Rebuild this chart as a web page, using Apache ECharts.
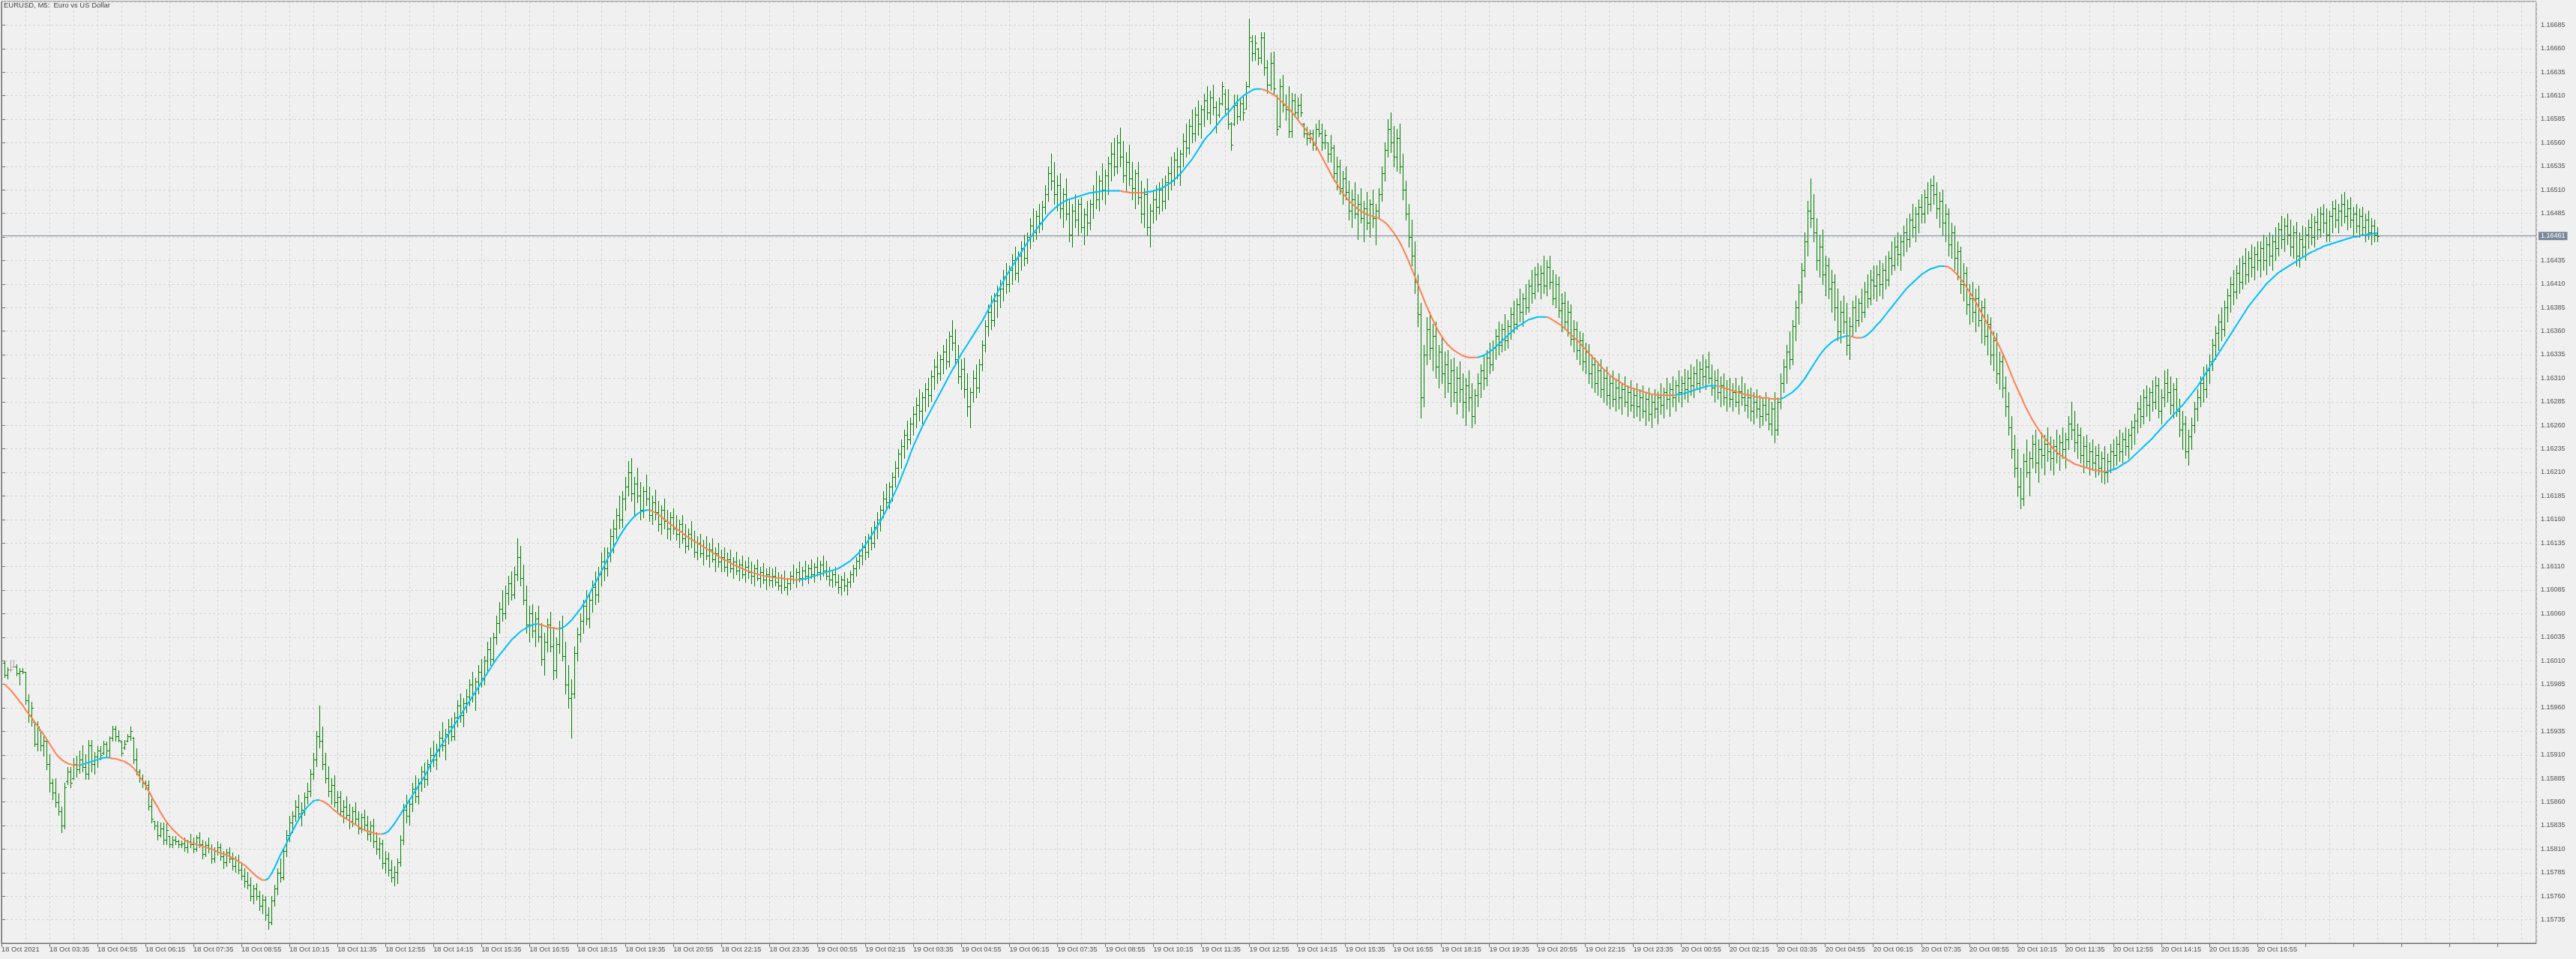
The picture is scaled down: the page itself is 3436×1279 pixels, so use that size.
<!DOCTYPE html>
<html><head><meta charset="utf-8">
<script src="https://cdn.jsdelivr.net/npm/echarts@6/dist/echarts.min.js"></script>
<style>html,body{margin:0;padding:0;background:#f0f0f0;}#c{width:3436px;height:1279px;}</style>
</head><body><div id="c"></div>
<script>
const TITLE = 'EURUSD, M5:  Euro vs US Dollar';
const BASE = 1.15;          // bar values below are in points (0.00001) above BASE
const bidPrice = 1.16461;
const tickLabels = ['18 Oct 2021','18 Oct 03:35','18 Oct 04:55','18 Oct 06:15','18 Oct 07:35','18 Oct 08:55','18 Oct 10:15','18 Oct 11:35','18 Oct 12:55','18 Oct 14:15','18 Oct 15:35','18 Oct 16:55','18 Oct 18:15','18 Oct 19:35','18 Oct 20:55','18 Oct 22:15','18 Oct 23:35','19 Oct 00:55','19 Oct 02:15','19 Oct 03:35','19 Oct 04:55','19 Oct 06:15','19 Oct 07:35','19 Oct 08:55','19 Oct 10:15','19 Oct 11:35','19 Oct 12:55','19 Oct 14:15','19 Oct 15:35','19 Oct 16:55','19 Oct 18:15','19 Oct 19:35','19 Oct 20:55','19 Oct 22:15','19 Oct 23:35','20 Oct 00:55','20 Oct 02:15','20 Oct 03:35','20 Oct 04:55','20 Oct 06:15','20 Oct 07:35','20 Oct 08:55','20 Oct 10:15','20 Oct 11:35','20 Oct 12:55','20 Oct 14:15','20 Oct 15:35','20 Oct 16:55'];
const open = [
1008,995,1001,1004,1004,997,999,998,968,952,945,922,936,920,925,900,
880,870,860,850,835,882,892,885,900,895,905,897,890,920,900,908,
915,912,922,915,928,938,930,924,918,925,930,928,905,892,885,880,
878,856,840,835,825,832,820,824,815,820,818,815,816,812,818,815,
810,822,815,805,814,810,800,808,812,802,796,806,800,792,798,788,
782,776,772,760,768,760,750,756,740,732,755,768,785,780,808,825,
838,845,855,848,852,865,872,890,905,930,925,900,885,872,878,860,
865,850,855,846,840,850,842,832,844,836,826,835,818,810,816,795,
800,788,780,786,796,820,852,845,858,874,866,880,892,884,900,910,
905,915,928,920,932,940,930,950,962,952,965,972,985,975,988,998,
992,1010,1022,1012,1035,1050,1065,1060,1082,1092,1080,1102,1120,1098,1075,1048,
1060,1042,1055,1036,1012,1030,1048,1025,1000,1028,1045,1015,985,970,975,1018,
1038,1052,1068,1055,1075,1088,1080,1102,1115,1108,1125,1142,1150,1165,1160,1182,
1195,1210,1188,1198,1185,1170,1190,1182,1165,1178,1168,1155,1170,1158,1150,1162,
1150,1145,1155,1140,1132,1145,1138,1126,1135,1124,1130,1122,1128,1118,1124,1115,
1120,1110,1118,1108,1115,1106,1112,1102,1110,1104,1100,1108,1098,1104,1096,1102,
1095,1100,1094,1090,1098,1088,1092,1100,1096,1104,1098,1106,1100,1108,1102,1110,
1104,1112,1106,1100,1096,1102,1094,1088,1096,1090,1094,1102,1108,1116,1122,1130,
1126,1140,1135,1152,1160,1170,1182,1178,1195,1205,1215,1230,1238,1250,1245,1262,
1272,1282,1275,1290,1298,1292,1312,1322,1315,1330,1338,1328,1355,1348,1330,1312,
1320,1298,1280,1295,1310,1300,1325,1345,1365,1380,1372,1392,1398,1405,1418,1410,
1425,1435,1422,1440,1448,1438,1460,1472,1465,1482,1475,1492,1505,1528,1520,1505,
1515,1490,1505,1485,1462,1488,1478,1495,1470,1484,1475,1495,1508,1500,1520,1510,
1525,1538,1548,1535,1560,1545,1525,1540,1522,1512,1528,1502,1485,1505,1470,1488,
1500,1492,1510,1498,1518,1528,1520,1542,1535,1548,1562,1555,1578,1570,1590,1580,
1595,1605,1592,1608,1598,1590,1602,1612,1596,1580,1580,1600,1588,1602,1596,1620,
1668,1655,1660,1650,1672,1640,1622,1645,1610,1578,1620,1600,1595,1572,1605,1592,
1600,1580,1570,1565,1570,1558,1575,1570,1560,1560,1548,1555,1528,1535,1512,1522,
1508,1488,1500,1485,1495,1480,1490,1475,1495,1480,1488,1505,1528,1552,1575,1560,
1545,1565,1535,1510,1485,1460,1440,1412,1378,1290,1335,1362,1342,1355,1322,1338,
1315,1325,1305,1318,1295,1310,1298,1285,1302,1290,1270,1292,1305,1318,1310,1332,
1325,1342,1355,1345,1362,1350,1365,1378,1368,1388,1380,1395,1385,1408,1400,1420,
1410,1422,1408,1428,1412,1395,1410,1382,1390,1370,1380,1352,1362,1340,1350,1328,
1338,1315,1325,1305,1318,1298,1310,1292,1305,1288,1300,1290,1298,1285,1295,1282,
1292,1280,1290,1275,1288,1272,1285,1278,1290,1282,1295,1288,1298,1290,1302,1295,
1305,1298,1310,1302,1315,1305,1320,1312,1322,1310,1300,1308,1295,1302,1290,1298,
1288,1295,1285,1296,1290,1282,1290,1275,1285,1278,1270,1282,1272,1262,1278,1255,
1285,1305,1322,1338,1330,1365,1385,1402,1425,1455,1488,1480,1465,1435,1450,1420,
1430,1405,1412,1385,1360,1380,1370,1345,1365,1385,1372,1390,1380,1402,1395,1415,
1408,1420,1410,1425,1415,1438,1430,1450,1442,1455,1465,1458,1478,1470,1485,1492,
1485,1502,1495,1515,1505,1490,1498,1475,1485,1452,1465,1438,1445,1410,1422,1388,
1395,1380,1395,1372,1385,1355,1368,1335,1350,1315,1328,1300,1280,1258,1235,1215,
1195,1182,1222,1210,1225,1240,1220,1235,1228,1240,1232,1225,1238,1230,1242,1235,
1245,1262,1255,1242,1250,1228,1238,1222,1232,1220,1228,1215,1225,1210,1222,1232,
1228,1240,1232,1245,1238,1250,1258,1265,1278,1270,1290,1282,1295,1285,1302,1275,
1290,1305,1295,1282,1298,1275,1255,1262,1232,1248,1260,1278,1290,1305,1298,1318,
1328,1345,1358,1370,1362,1385,1398,1410,1402,1422,1412,1432,1420,1438,1428,1442,
1435,1448,1435,1452,1440,1455,1448,1468,1458,1472,1462,1450,1465,1440,1458,1450,
1462,1470,1460,1476,1468,1485,1475,1462,1482,1490,1478,1488,1495,1482,1490,1478,
1485,1472,1482,1470,1478,1465,1472,1462];
const high = [
1010,1003,1011,1011,1006,1002,1002,998,974,966,945,946,936,930,925,911,
884,885,869,855,880,897,897,907,909,915,920,911,926,926,913,919,
919,925,924,930,941,941,936,925,926,932,940,929,917,895,889,883,
883,864,840,840,838,838,838,824,824,824,820,819,822,820,826,822,
825,828,820,818,822,815,812,818,816,808,810,812,806,802,804,796,
790,786,780,772,774,766,762,760,748,760,772,790,800,812,830,845,
850,862,868,860,870,880,895,912,935,962,940,912,898,885,888,872,
872,862,866,858,855,860,850,848,852,845,840,842,828,822,820,808,
806,798,792,800,825,858,868,862,880,888,885,898,902,905,918,925,
922,935,945,938,948,950,955,968,975,970,980,990,998,992,1005,1012,
1015,1030,1035,1040,1058,1072,1085,1090,1100,1105,1110,1140,1132,1112,1090,1068,
1070,1062,1068,1050,1040,1055,1062,1045,1035,1052,1058,1030,1005,990,1025,1045,
1060,1075,1085,1080,1095,1105,1110,1125,1130,1130,1150,1160,1172,1185,1190,1205,
1222,1225,1205,1215,1200,1195,1208,1195,1185,1192,1180,1175,1182,1170,1168,1172,
1165,1160,1165,1155,1150,1158,1148,1142,1145,1138,1142,1135,1140,1130,1135,1128,
1130,1125,1128,1120,1126,1118,1122,1116,1120,1115,1112,1118,1110,1114,1108,1110,
1108,1110,1104,1102,1106,1098,1105,1112,1108,1115,1110,1116,1112,1118,1114,1120,
1116,1122,1116,1110,1106,1110,1102,1100,1104,1098,1106,1112,1120,1128,1135,1142,
1145,1152,1158,1168,1175,1190,1198,1200,1210,1222,1235,1245,1255,1265,1268,1280,
1290,1298,1295,1305,1310,1318,1330,1338,1335,1345,1352,1360,1372,1362,1345,1330,
1332,1315,1300,1318,1325,1330,1350,1372,1388,1398,1400,1408,1415,1425,1432,1430,
1442,1450,1445,1455,1462,1465,1480,1490,1488,1495,1498,1515,1535,1548,1540,1525,
1528,1512,1522,1500,1495,1505,1500,1502,1490,1498,1500,1515,1530,1525,1538,1532,
1545,1560,1565,1568,1576,1562,1550,1558,1540,1532,1540,1520,1512,1522,1495,1510,
1515,1518,1522,1525,1535,1545,1550,1555,1552,1570,1580,1585,1595,1598,1605,1600,
1612,1620,1615,1622,1604,1608,1625,1617,1617,1582,1611,1611,1608,1609,1625,1692,
1674,1674,1661,1677,1677,1648,1656,1657,1611,1628,1632,1611,1620,1613,1612,1608,
1612,1581,1577,1574,1574,1580,1584,1580,1574,1560,1568,1558,1545,1542,1530,1535,
1520,1510,1518,1505,1512,1498,1508,1500,1510,1495,1512,1535,1560,1585,1592,1578,
1575,1580,1548,1520,1495,1478,1455,1420,1390,1345,1375,1380,1368,1370,1345,1355,
1338,1340,1330,1332,1322,1328,1315,1310,1318,1305,1298,1315,1325,1335,1340,1348,
1350,1362,1370,1368,1378,1372,1385,1392,1395,1405,1400,1410,1415,1425,1428,1432,
1430,1440,1435,1440,1425,1420,1418,1400,1402,1392,1388,1372,1370,1360,1358,1348,
1346,1335,1332,1328,1330,1320,1322,1312,1318,1308,1315,1305,1312,1302,1308,1300,
1305,1298,1302,1295,1300,1292,1298,1296,1305,1300,1310,1305,1312,1308,1318,1312,
1320,1318,1325,1322,1330,1328,1335,1330,1338,1325,1318,1320,1312,1315,1308,1310,
1305,1310,1302,1312,1305,1298,1300,1295,1298,1292,1290,1295,1290,1285,1295,1290,
1315,1330,1345,1360,1372,1392,1410,1432,1465,1498,1522,1505,1480,1462,1468,1440,
1438,1425,1420,1405,1392,1398,1390,1375,1392,1398,1395,1405,1412,1420,1425,1430,
1430,1435,1432,1440,1445,1455,1460,1465,1462,1472,1480,1485,1495,1492,1500,1505,
1510,1518,1522,1525,1518,1508,1510,1495,1490,1475,1472,1455,1450,1432,1428,1410,
1412,1405,1408,1392,1395,1378,1375,1360,1358,1338,1335,1312,1295,1270,1250,1235,
1215,1230,1245,1232,1250,1255,1245,1252,1250,1258,1248,1245,1255,1250,1258,1252,
1270,1285,1275,1262,1258,1248,1250,1242,1245,1238,1240,1232,1238,1230,1240,1245,
1248,1255,1252,1258,1256,1265,1272,1285,1292,1298,1302,1300,1308,1312,1310,1298,
1318,1320,1312,1305,1310,1288,1275,1270,1255,1268,1285,1298,1312,1322,1325,1335,
1352,1365,1378,1385,1392,1405,1418,1425,1430,1438,1440,1448,1445,1452,1450,1455,
1455,1462,1460,1465,1462,1470,1475,1482,1480,1485,1478,1472,1476,1465,1472,1470,
1478,1485,1482,1490,1492,1495,1490,1488,1498,1500,1495,1505,1508,1500,1502,1492,
1495,1490,1492,1485,1488,1480,1478,1470];
const low = [
993,991,998,1003,994,985,997,964,945,941,919,915,915,909,895,871,
863,855,846,828,832,879,876,884,887,891,892,884,884,892,890,897,
905,911,908,908,925,925,924,909,916,924,926,901,889,881,876,873,
852,838,831,820,823,815,815,812,812,815,812,812,808,806,812,806,
808,812,800,802,806,795,796,804,798,790,792,796,788,786,784,778,
770,768,755,752,756,745,742,735,725,730,750,762,775,778,802,818,
828,840,842,835,846,858,866,884,898,918,895,880,866,858,855,848,
845,838,842,832,834,836,826,828,830,820,818,812,805,800,790,785,
782,775,771,774,792,815,838,836,850,860,858,872,876,878,892,898,
895,908,915,905,922,925,926,940,945,940,955,962,966,958,975,982,
985,1000,1005,1008,1028,1040,1052,1055,1070,1075,1076,1095,1090,1070,1040,1030,
1035,1025,1030,1005,995,1020,1020,990,992,1018,1010,975,960,928,970,1010,
1030,1040,1048,1045,1062,1070,1072,1090,1095,1100,1115,1125,1140,1150,1152,1170,
1185,1180,1165,1178,1160,1162,1175,1158,1155,1160,1148,1145,1150,1140,1138,1145,
1138,1130,1135,1125,1128,1130,1120,1118,1120,1112,1118,1110,1115,1105,1110,1105,
1105,1100,1104,1098,1102,1095,1098,1094,1098,1092,1090,1095,1088,1092,1086,1090,
1088,1090,1085,1082,1085,1080,1086,1092,1088,1094,1090,1096,1092,1098,1094,1100,
1096,1100,1096,1090,1088,1090,1082,1080,1084,1080,1088,1094,1100,1108,1112,1118,
1120,1128,1130,1140,1148,1162,1170,1172,1180,1195,1205,1215,1225,1235,1240,1250,
1258,1265,1262,1275,1280,1286,1298,1305,1308,1315,1320,1322,1340,1325,1305,1298,
1290,1270,1258,1285,1290,1295,1318,1338,1355,1362,1365,1375,1385,1392,1400,1402,
1410,1415,1412,1425,1430,1432,1448,1455,1458,1465,1468,1485,1498,1510,1495,1488,
1480,1470,1478,1455,1450,1470,1462,1465,1452,1462,1468,1480,1490,1488,1500,1495,
1505,1520,1525,1528,1535,1518,1508,1515,1500,1490,1495,1475,1470,1462,1450,1475,
1478,1485,1488,1490,1500,1510,1515,1522,1515,1535,1545,1548,1560,1562,1568,1565,
1578,1585,1580,1590,1571,1587,1600,1591,1575,1552,1579,1580,1584,1584,1596,1619,
1647,1648,1643,1645,1632,1613,1616,1612,1568,1576,1593,1584,1566,1566,1587,1584,
1588,1566,1558,1560,1552,1552,1567,1552,1554,1540,1540,1520,1510,1505,1495,1500,
1478,1470,1480,1458,1475,1455,1468,1460,1470,1452,1480,1498,1520,1545,1550,1535,
1530,1528,1500,1478,1450,1430,1400,1365,1268,1280,1325,1330,1318,1310,1300,1305,
1290,1295,1280,1285,1272,1285,1268,1260,1275,1258,1262,1280,1290,1298,1302,1315,
1318,1330,1335,1338,1340,1342,1352,1358,1362,1370,1365,1378,1380,1390,1395,1402,
1395,1400,1398,1405,1388,1385,1375,1360,1362,1355,1345,1338,1330,1325,1318,1315,
1305,1300,1295,1292,1290,1285,1282,1278,1280,1275,1278,1272,1280,1270,1275,1268,
1270,1265,1268,1260,1265,1258,1268,1262,1272,1268,1278,1270,1280,1275,1285,1280,
1288,1285,1292,1290,1298,1295,1302,1298,1305,1292,1285,1288,1280,1282,1275,1280,
1275,1280,1272,1282,1275,1268,1265,1262,1268,1258,1260,1265,1255,1250,1242,1250,
1278,1295,1305,1320,1325,1350,1368,1390,1418,1440,1470,1455,1425,1418,1410,1398,
1395,1380,1372,1350,1348,1358,1335,1330,1355,1360,1365,1370,1375,1385,1388,1395,
1392,1398,1395,1405,1408,1420,1425,1430,1425,1440,1445,1450,1460,1455,1465,1475,
1475,1485,1488,1495,1480,1470,1462,1455,1440,1438,1425,1415,1400,1392,1378,1368,
1370,1360,1365,1348,1345,1335,1325,1318,1305,1298,1290,1270,1250,1225,1205,1185,
1172,1175,1205,1185,1215,1210,1200,1215,1208,1222,1212,1208,1220,1212,1225,1215,
1235,1245,1232,1225,1220,1210,1215,1208,1212,1205,1208,1200,1198,1200,1210,1215,
1218,1222,1220,1228,1225,1235,1240,1252,1258,1262,1270,1265,1275,1278,1268,1262,
1280,1285,1272,1268,1270,1248,1235,1225,1218,1235,1252,1265,1280,1285,1290,1305,
1318,1330,1340,1350,1355,1370,1380,1388,1395,1400,1405,1410,1412,1418,1415,1425,
1418,1425,1420,1430,1425,1435,1440,1448,1445,1452,1440,1438,1430,1428,1440,1435,
1448,1452,1450,1458,1460,1465,1455,1455,1465,1470,1465,1472,1475,1468,1470,1462,
1465,1460,1462,1455,1458,1452,1455,1455];
const close = [
995,1001,1001,1004,997,999,998,968,952,960,922,940,920,925,900,880,
870,860,850,835,876,892,880,900,895,905,897,890,920,900,908,915,
910,922,915,928,938,930,926,912,922,930,935,905,892,885,880,878,
856,842,835,825,832,820,830,815,820,818,815,816,812,818,815,810,
822,815,805,814,810,800,808,812,802,796,806,800,792,798,788,782,
776,772,760,768,760,750,756,740,732,755,768,785,780,808,825,838,
845,855,848,852,865,872,890,905,930,925,900,885,872,878,860,865,
850,855,846,840,850,842,832,844,836,826,835,818,810,816,795,800,
788,780,786,796,820,852,845,858,874,866,880,892,884,900,910,905,
915,928,920,932,940,930,950,962,952,965,972,985,975,988,998,992,
1010,1022,1012,1035,1050,1065,1060,1082,1092,1080,1102,1120,1098,1075,1048,1060,
1042,1055,1036,1012,1030,1048,1025,1000,1028,1045,1015,985,970,975,1018,1038,
1052,1068,1055,1075,1088,1080,1102,1115,1108,1125,1142,1150,1165,1160,1182,1195,
1210,1188,1198,1185,1170,1190,1182,1165,1178,1168,1155,1170,1158,1150,1162,1150,
1145,1155,1140,1132,1145,1138,1126,1135,1124,1130,1122,1128,1118,1124,1115,1120,
1110,1118,1108,1115,1106,1112,1102,1110,1104,1100,1108,1098,1104,1096,1102,1095,
1100,1094,1090,1098,1088,1092,1100,1096,1104,1098,1106,1100,1108,1102,1110,1104,
1112,1106,1100,1096,1102,1094,1088,1096,1090,1094,1102,1108,1116,1122,1130,1126,
1140,1135,1152,1160,1170,1182,1178,1195,1205,1215,1230,1238,1250,1245,1262,1272,
1282,1275,1290,1298,1292,1312,1322,1315,1330,1338,1328,1355,1348,1330,1312,1320,
1298,1280,1295,1310,1300,1325,1345,1365,1380,1372,1392,1398,1405,1418,1410,1425,
1435,1422,1440,1448,1438,1460,1472,1465,1482,1475,1492,1505,1528,1520,1505,1515,
1490,1505,1485,1462,1488,1478,1495,1470,1484,1475,1495,1508,1500,1520,1510,1525,
1538,1548,1535,1560,1545,1525,1540,1522,1512,1528,1502,1485,1505,1470,1488,1500,
1492,1510,1498,1518,1528,1520,1542,1535,1548,1562,1555,1578,1570,1590,1580,1595,
1605,1592,1608,1598,1580,1602,1620,1596,1580,1558,1600,1588,1602,1592,1620,1672,
1655,1666,1650,1672,1640,1622,1645,1618,1575,1620,1600,1595,1572,1605,1592,1600,
1592,1570,1565,1570,1558,1575,1570,1560,1568,1548,1555,1528,1535,1512,1522,1508,
1488,1500,1485,1495,1480,1490,1475,1495,1480,1488,1505,1528,1552,1575,1560,1545,
1565,1535,1510,1485,1460,1440,1412,1378,1290,1335,1362,1342,1355,1322,1338,1315,
1325,1305,1318,1295,1310,1298,1285,1302,1290,1270,1292,1305,1318,1310,1332,1325,
1342,1355,1345,1362,1350,1365,1378,1368,1388,1380,1395,1385,1408,1400,1420,1410,
1422,1408,1428,1412,1395,1410,1382,1390,1370,1380,1352,1362,1340,1350,1328,1338,
1315,1325,1305,1318,1298,1310,1292,1305,1288,1300,1290,1298,1285,1295,1282,1292,
1280,1290,1275,1288,1272,1285,1278,1290,1282,1295,1288,1298,1290,1302,1295,1305,
1298,1310,1302,1315,1305,1320,1312,1322,1310,1300,1308,1295,1302,1290,1298,1288,
1295,1285,1296,1290,1282,1290,1275,1285,1278,1270,1282,1272,1262,1278,1255,1285,
1305,1322,1338,1330,1365,1385,1402,1425,1455,1488,1480,1465,1435,1450,1420,1430,
1405,1412,1385,1360,1380,1370,1345,1365,1385,1372,1390,1380,1402,1395,1415,1408,
1420,1410,1425,1415,1438,1430,1450,1442,1455,1465,1458,1478,1470,1485,1492,1485,
1502,1495,1515,1505,1490,1498,1475,1485,1452,1465,1438,1445,1410,1422,1388,1395,
1380,1395,1372,1385,1355,1368,1335,1350,1315,1328,1300,1280,1258,1235,1215,1195,
1182,1222,1210,1225,1240,1220,1235,1228,1240,1232,1225,1238,1230,1242,1235,1245,
1262,1255,1242,1250,1228,1238,1222,1232,1220,1228,1215,1225,1210,1222,1232,1228,
1240,1232,1245,1238,1250,1258,1265,1278,1270,1290,1282,1295,1285,1302,1275,1290,
1305,1295,1282,1298,1275,1255,1262,1232,1248,1260,1278,1290,1305,1298,1318,1328,
1345,1358,1370,1362,1385,1398,1410,1402,1422,1412,1432,1420,1438,1428,1442,1435,
1448,1435,1452,1440,1455,1448,1468,1458,1472,1462,1450,1465,1440,1458,1450,1462,
1470,1460,1476,1468,1485,1475,1462,1482,1490,1478,1488,1495,1482,1490,1478,1485,
1472,1482,1470,1478,1465,1472,1462,1461];
const ma = [
985,982,979,975,971,967,963,958,954,950,945,941,936,932,927,922,
917,912,908,905,903,901,900,899,899,899,900,901,902,903,904,905,
906,907,907,907,906,906,905,904,903,901,899,896,892,887,883,878,
872,866,860,855,849,844,839,835,831,828,825,822,820,818,817,816,
815,814,813,812,811,810,809,807,806,805,804,802,801,799,797,795,
793,790,787,784,781,779,777,777,779,784,790,797,804,810,816,823,
829,835,841,846,851,855,858,861,862,862,861,859,857,854,851,849,
846,844,842,840,838,836,834,832,830,829,828,827,826,826,826,827,
829,833,837,842,847,852,857,862,867,872,877,882,887,893,900,906,
912,917,922,927,932,937,942,947,952,957,962,967,972,977,982,987,
992,997,1002,1007,1012,1016,1020,1024,1028,1032,1035,1038,1041,1043,1045,1047,
1048,1049,1049,1048,1047,1046,1045,1045,1044,1044,1045,1047,1050,1053,1057,1061,
1065,1070,1075,1081,1087,1093,1099,1105,1111,1118,1124,1130,1136,1142,1147,1152,
1156,1160,1163,1166,1168,1169,1170,1170,1169,1167,1165,1163,1160,1158,1155,1153,
1150,1148,1146,1143,1141,1139,1137,1135,1133,1131,1129,1127,1125,1123,1121,1119,
1117,1116,1114,1112,1111,1109,1108,1106,1105,1104,1103,1102,1101,1100,1100,1099,
1099,1098,1098,1098,1097,1097,1097,1096,1096,1096,1097,1097,1098,1099,1100,1101,
1102,1103,1104,1105,1106,1107,1108,1110,1112,1114,1116,1119,1122,1125,1129,1133,
1138,1143,1148,1153,1158,1164,1170,1176,1183,1190,1197,1205,1213,1221,1230,1238,
1245,1252,1259,1265,1271,1277,1283,1289,1295,1301,1307,1313,1319,1324,1330,1336,
1341,1346,1351,1356,1361,1366,1371,1377,1383,1389,1395,1401,1407,1413,1419,1424,
1429,1434,1439,1444,1449,1454,1459,1464,1468,1472,1476,1480,1484,1487,1490,1493,
1495,1497,1499,1500,1501,1502,1503,1504,1505,1506,1507,1507,1508,1508,1509,1509,
1509,1509,1509,1509,1509,1508,1508,1507,1507,1507,1507,1507,1507,1508,1508,1509,
1510,1511,1512,1514,1516,1518,1521,1524,1527,1531,1535,1539,1543,1548,1553,1558,
1563,1567,1570,1574,1578,1582,1586,1589,1592,1596,1600,1604,1607,1610,1612,1614,
1616,1617,1617,1617,1616,1615,1613,1611,1609,1606,1603,1600,1597,1593,1589,1585,
1581,1577,1573,1568,1563,1558,1552,1546,1540,1534,1528,1522,1517,1512,1507,1503,
1499,1496,1493,1490,1488,1486,1484,1483,1482,1481,1480,1478,1476,1473,1469,1465,
1460,1455,1449,1442,1435,1427,1419,1411,1403,1395,1387,1380,1373,1366,1360,1355,
1350,1346,1343,1340,1338,1336,1334,1333,1332,1332,1332,1332,1333,1334,1336,1338,
1340,1343,1346,1349,1352,1355,1358,1361,1364,1366,1368,1370,1372,1373,1374,1375,
1375,1375,1375,1374,1372,1370,1368,1366,1363,1360,1357,1354,1351,1348,1344,1341,
1337,1334,1330,1327,1323,1320,1317,1314,1311,1309,1307,1305,1303,1301,1300,1299,
1298,1297,1296,1295,1294,1293,1293,1292,1292,1292,1292,1292,1292,1292,1293,1293,
1294,1295,1296,1297,1298,1299,1300,1301,1302,1302,1302,1302,1301,1300,1299,1298,
1297,1296,1295,1294,1293,1292,1292,1291,1290,1290,1289,1289,1289,1288,1288,1288,
1288,1289,1291,1293,1295,1298,1301,1305,1309,1314,1319,1324,1329,1334,1338,1342,
1345,1348,1350,1352,1353,1354,1355,1355,1354,1353,1353,1353,1354,1356,1359,1362,
1366,1369,1373,1377,1381,1385,1389,1393,1397,1401,1405,1408,1411,1414,1417,1420,
1422,1424,1426,1427,1428,1429,1429,1429,1428,1426,1423,1420,1416,1412,1407,1402,
1397,1392,1386,1380,1374,1368,1362,1356,1350,1344,1337,1330,1322,1314,1306,1299,
1292,1285,1278,1272,1266,1261,1256,1251,1247,1243,1239,1235,1232,1229,1227,1225,
1223,1221,1219,1218,1217,1216,1215,1214,1213,1212,1212,1211,1211,1211,1212,1213,
1214,1216,1218,1220,1222,1225,1228,1231,1234,1237,1240,1243,1246,1250,1253,1257,
1260,1264,1267,1271,1274,1278,1281,1285,1289,1293,1297,1301,1306,1311,1316,1321,
1326,1331,1336,1341,1346,1351,1356,1361,1366,1371,1376,1381,1386,1390,1394,1398,
1402,1406,1410,1413,1416,1419,1422,1424,1426,1428,1430,1432,1434,1436,1438,1440,
1442,1444,1445,1447,1448,1450,1451,1452,1453,1454,1455,1456,1457,1458,1459,1460,
1460,1461,1462,1462,1463,1463,1464,1464];

const P = v => +(BASE + v / 1e5).toFixed(5);
const barData = open.map((o, i) => [i + 1, P(o), P(high[i]), P(low[i]), P(close[i])]);
const up = ma.map(() => '-'), dn = ma.map(() => '-');
let dir = -1;
for (let i = 1; i < ma.length; i++) {
  const d = ma[i] > ma[i - 1] ? 1 : (ma[i] < ma[i - 1] ? -1 : dir);
  dir = d;
  const t = d > 0 ? up : dn;
  t[i - 1] = P(ma[i - 1]); t[i] = P(ma[i]);
}
const upData = up.map((v, i) => [i + 1, v]);
const dnData = dn.map((v, i) => [i + 1, v]);

const FONT = "'Liberation Sans', Arial, sans-serif";
const chart = echarts.init(document.getElementById('c'), null, {renderer: 'canvas', width: 3436, height: 1279});
chart.setOption({
  animation: false,
  backgroundColor: '#f0f0f0',
  title: {text: TITLE, left: 5, top: 2, padding: 0,
    textStyle: {fontSize: 9.5, fontWeight: 'normal', color: '#3c3c3c', fontFamily: FONT}},
  grid: {left: 2, right: 53, top: 2, bottom: 21, show: true, borderColor: '#6e6e6e', borderWidth: 1,
    containLabel: false, outerBoundsMode: 'none'},
  xAxis: [
    {type: 'value', min: 0, max: 845, interval: 8, position: 'bottom',
      axisLine: {show: false}, axisTick: {show: false}, axisLabel: {show: false},
      splitLine: {show: true, lineStyle: {color: '#d2d2d2', type: [3, 3], width: 1}}},
    {type: 'value', min: 0, max: 845, interval: 16, position: 'bottom',
      axisLine: {show: true, onZero: false, lineStyle: {color: '#6e6e6e'}},
      axisTick: {show: true, length: 5, lineStyle: {color: '#6e6e6e'}},
      splitLine: {show: false},
      axisLabel: {show: true, align: 'left', margin: 4, fontSize: 9.3, color: '#505050', fontFamily: FONT,
        showMinLabel: true, showMaxLabel: false,
        formatter: v => (v % 16 === 0 && v / 16 < tickLabels.length) ? tickLabels[v / 16] : ''}}
  ],
  yAxis: {type: 'value', position: 'right', min: 1.1571, max: 1.1671, interval: 0.00025, scale: true,
    axisLine: {show: true, lineStyle: {color: '#6e6e6e'}},
    axisTick: {show: true, length: 5, lineStyle: {color: '#6e6e6e'}},
    axisLabel: {show: true, margin: 6, fontSize: 9, color: '#505050', fontFamily: FONT,
      showMinLabel: false, showMaxLabel: false, formatter: v => v.toFixed(5)},
    splitLine: {show: true, lineStyle: {color: '#d2d2d2', type: [3, 3], width: 1}}},
  series: [
    {type: 'custom', xAxisIndex: 0, data: barData, encode: {x: 0, y: [1, 2, 3, 4]}, silent: true, clip: true,
      renderItem: (params, api) => {
        const x = api.value(0), o = api.value(1), h = api.value(2), l = api.value(3), c = api.value(4);
        const col = (o === c) ? '#a0a0a0' : '#008000';
        const cx = Math.round(api.coord([x, h])[0]);
        const yH = Math.round(api.coord([x, h])[1]), yL = Math.round(api.coord([x, l])[1]);
        const yO = Math.round(api.coord([x, o])[1]), yC = Math.round(api.coord([x, c])[1]);
        return {type: 'group', children: [
          {type: 'rect', shape: {x: cx, y: yH, width: 1, height: Math.max(1, yL - yH + 1)}, style: {fill: col}},
          {type: 'rect', shape: {x: cx - 2, y: yO, width: 2, height: 1}, style: {fill: col}},
          {type: 'rect', shape: {x: cx + 1, y: yC, width: 2, height: 1}, style: {fill: col}}
        ]};
      }},
    {type: 'line', xAxisIndex: 0, data: upData, symbol: 'none', connectNulls: false, silent: true,
      lineStyle: {color: '#00bfff', width: 2}, z: 3},
    {type: 'line', xAxisIndex: 0, data: dnData, symbol: 'none', connectNulls: false, silent: true,
      lineStyle: {color: '#ff7f50', width: 2}, z: 3,
      markLine: {silent: true, symbol: 'none', animation: false, precision: 5,
        data: [{yAxis: bidPrice}],
        lineStyle: {color: '#778899', width: 1, type: 'solid'},
        label: {show: true, position: 'end', distance: 3, formatter: bidPrice.toFixed(5),
          backgroundColor: '#778899', color: '#ffffff', fontSize: 9, fontFamily: FONT, padding: [1, 3, 1, 3]}}}
  ]
});
</script></body></html>
